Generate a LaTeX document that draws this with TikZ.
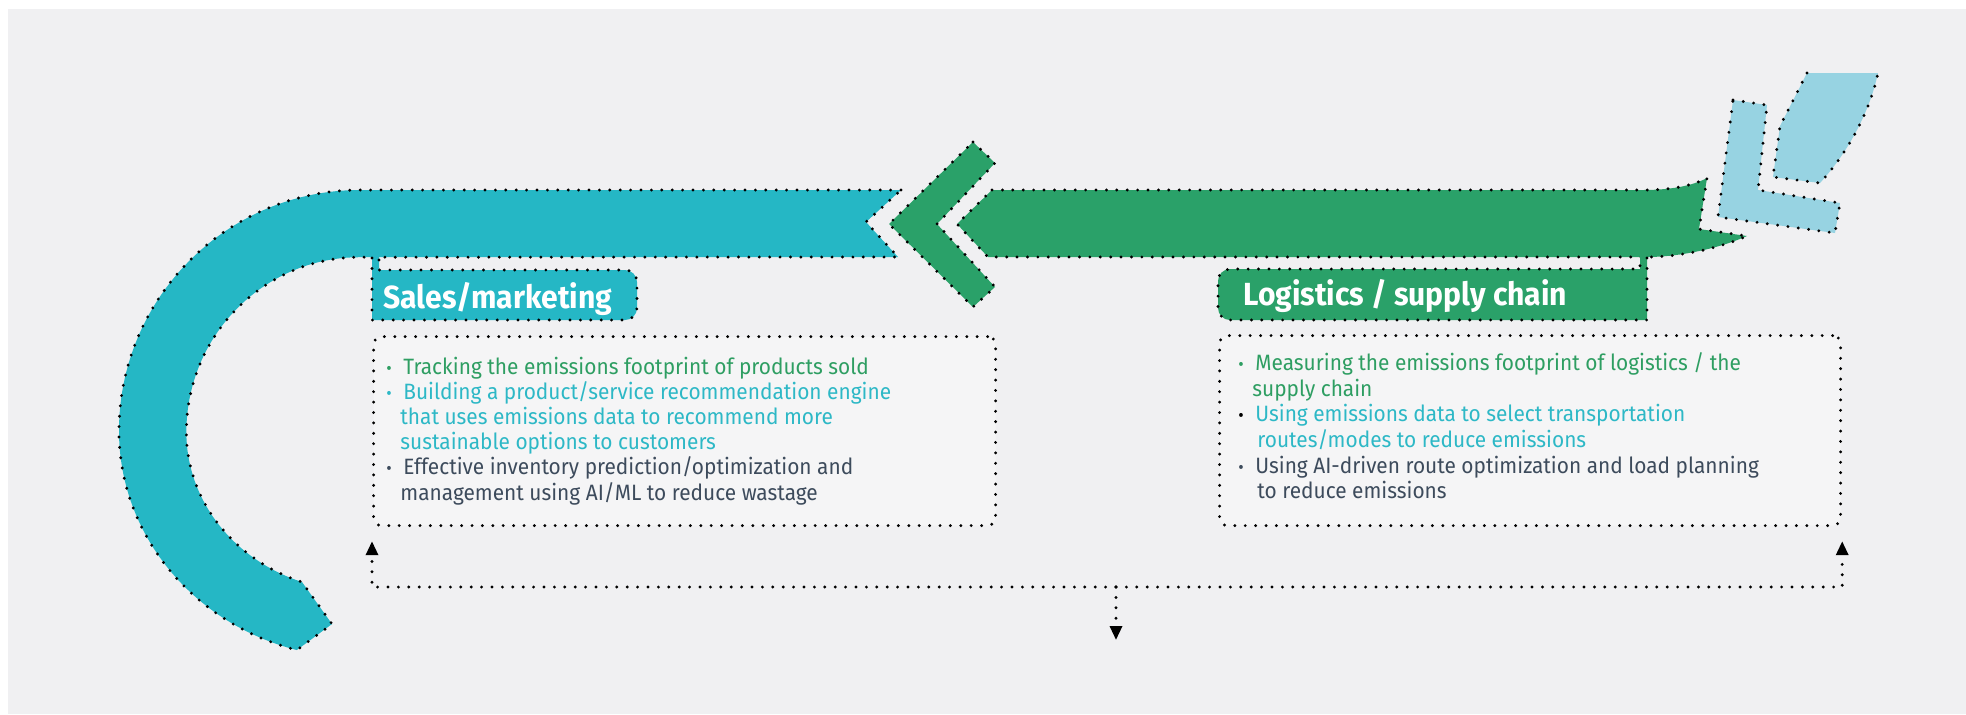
\documentclass[tikz,border=0pt]{standalone}
\usepackage{fontspec}
\setmainfont{Fira Sans}[FakeStretch=0.94]
\usetikzlibrary{calc,arrows.meta}

\definecolor{steal}{HTML}{25B7C5}
\definecolor{sgreen}{HTML}{2AA169}
\definecolor{sblue}{HTML}{97D3E2}
\definecolor{bgray}{HTML}{F0F0F2}
\definecolor{boxgray}{HTML}{F5F5F6}
\definecolor{tgreen}{HTML}{2E9E62}
\definecolor{tteal}{HTML}{2DB8C6}
\definecolor{tdark}{HTML}{3D4B5C}

\newcommand\bul[1]{\llap{\textcolor{#1}{\scalebox{0.8}{\textbullet}}\hspace{5.8pt}}}

\tikzset{
  dotline/.style={draw=black, line width=1.6pt, line cap=round, dash pattern=on 0pt off 5.2pt},
  tbox/.style={dotline, fill=boxgray, rounded corners=4pt, inner sep=0pt, anchor=north west},
  lbl/.style={text=white, inner sep=0pt, anchor=base west, font=\fontsize{16}{18}\selectfont\bfseries},
  bline/.style={inner sep=0pt, anchor=base west, font=\fontsize{11.1}{12.6}\selectfont},
  tip/.style={-{Triangle[width=6pt,length=7pt]}}
}

\begin{document}
\begin{tikzpicture}[x=0.5pt,y=-0.5pt]
\useasboundingbox (0,0) rectangle (1966,714);
\fill[white] (0,0) rectangle (1966,714);
\fill[bgray] (8,9) rectangle (1966,714);

\def\cx{360} \def\cy{430}

\path[fill=steal, dotline] (901,190) -- (\cx,190)
  arc[start angle=270, end angle=180, radius=241]
  arc[start angle=180, end angle=105.2, x radius=241, y radius=227]
  -- (332,624) -- (302,582)
  arc[start angle=109.6, end angle=180, x radius=174, y radius=159]
  arc[start angle=180, end angle=270, x radius=173, y radius=175]
  -- (898,257) -- (866,222) -- cycle;

\path[fill=sgreen, dotline] (973,142) -- (995,163) -- (937,224) -- (995,287) -- (973,307) -- (889,224) -- cycle;

\path[fill=sgreen, dotline] (992,190) -- (1643,190)
  .. controls (1670,190) and (1692,186) .. (1707,178) -- (1699,229) -- (1747,236)
  .. controls (1720,248) and (1680,257) .. (1647,257) -- (988,257) -- (957,224) -- cycle;

\path[fill=sblue, dotline] (1733,100) -- (1767,105) -- (1758,190) -- (1840,203) -- (1835,233) -- (1718,217) -- cycle;
\fill[sblue] (1807,73) -- (1780,126) -- (1773,177) -- (1820,183) .. controls (1850,150) and (1870,110) .. (1878,73) -- cycle;
\draw[dotline] (1807,73) -- (1780,126) -- (1773,177) -- (1820,183) .. controls (1850,150) and (1870,110) .. (1878,73);

\fill[steal] (372,253) -- (372,320) [rounded corners=6] -- (637,320) -- (637,270) [sharp corners] -- (379,270) -- (379,253) -- cycle;
\draw[dotline] (372,258) -- (372,320) [rounded corners=6] -- (637,320) -- (637,270) [sharp corners] -- (379,270) -- (379,258);
\fill[sgreen] (1647,253) -- (1647,320) [rounded corners=6] -- (1218,320) -- (1218,269) [sharp corners] -- (1640,269) -- (1640,253) -- cycle;
\draw[dotline] (1647,258) -- (1647,320) [rounded corners=6] -- (1218,320) -- (1218,269) [sharp corners] -- (1640,269) -- (1640,258);

\node[lbl] (saleslbl) at (383,308) {Sales/marketing};
\node[lbl] (loglbl) at (1243,305) {Logistics / supply chain};

\node[tbox, minimum width=311pt, minimum height=94.5pt] (salesbox) at (372,335) {};
\node[tbox, minimum width=310.5pt, minimum height=95pt] (logbox) at (1218,334) {};

\foreach \y/\x/\c/\t [count=\i] in {
  374/403/tgreen/{\bul{tgreen}Tracking the emissions footprint of products sold},
  399.2/403/tteal/{\bul{tteal}Building a product/service recommendation engine},
  424.4/400/tteal/{that uses emissions data to recommend more},
  449.6/400/tteal/{sustainable options to customers},
  474.8/403/tdark/{\bul{tdark}Effective inventory prediction/optimization and},
  500/400/tdark/{management using AI/ML to reduce wastage}}
  \node[bline, text=\c] (s\i) at (\x,\y) {\t};

\foreach \y/\x/\c/\t [count=\i] in {
  370.5/1255/tgreen/{\bul{tgreen}Measuring the emissions footprint of logistics / the},
  396/1252/tgreen/{supply chain},
  421.7/1255/tteal/{\bul{black}Using emissions data to select transportation},
  447.3/1257/tteal/{routes/modes to reduce emissions},
  473/1255/tdark/{\bul{tdark}Using AI-driven route optimization and load planning},
  498.5/1257/tdark/{to reduce emissions}}
  \node[bline, text=\c] (l\i) at (\x,\y) {\t};

\coordinate (hub) at (1116,587);
\coordinate (out) at (1116,640);
\draw[dotline, tip] (hub) -| ([yshift=-7pt]salesbox.south west);
\draw[dotline, tip] (hub) -| ([yshift=-7pt]logbox.south east);
\draw[dotline, tip] (hub) -- (out);
\end{tikzpicture}
\end{document}
